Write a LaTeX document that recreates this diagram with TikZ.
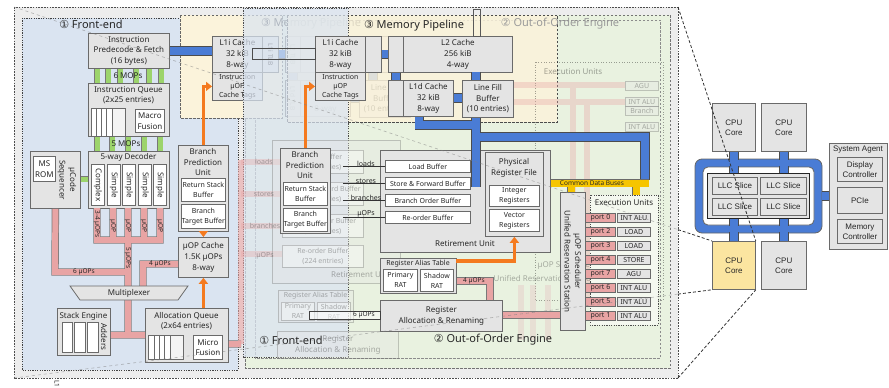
\documentclass[tikz,border=0pt]{standalone}
\usepackage{fontspec}
\setmainfont{Noto Sans}
\newfontfamily\dv{DejaVu Sans}
\newfontfamily\lib{Liberation Sans}
\usetikzlibrary{arrows.meta,calc}
\definecolor{bxf}{HTML}{E4E4E4}
\definecolor{bxd}{HTML}{6A6A6A}
\definecolor{grn}{HTML}{9CD46C}
\definecolor{pnk}{HTML}{E8A4A4}
\definecolor{org}{HTML}{F47A1F}
\definecolor{blu}{HTML}{4A7CD5}
\definecolor{ylw}{HTML}{F6C500}
\definecolor{febg}{HTML}{DAE4F1}
\definecolor{ooobg}{HTML}{E9F2E0}
\definecolor{membg}{HTML}{FBF3DB}
\definecolor{frmbg}{HTML}{EDEDED}
\definecolor{corey}{HTML}{FBE5A0}
\definecolor{ghost}{HTML}{9A9A9A}
\newcommand\fa{\fontsize{8}{10.6}\selectfont}
\newcommand\fb{\fontsize{7}{10}\selectfont}
\newcommand\fc{\fontsize{6.5}{7.5}\selectfont}
\newcommand\fd{\fontsize{7}{9}\selectfont}
\newcommand\fL{\fontsize{11}{13}\selectfont}
\newcommand\fcpu{\lib\fontsize{8}{10}\selectfont}
\newcommand\cn[1]{{\dv #1}}
\newcommand\B[7]{\node[#1,anchor=north west,minimum width={(#5-#3)*1pt},minimum height={(#6-#4)*1pt}] (#2) at (#3,#4) {#7};}
\newcommand\Bar[2]{\draw[#1b] #2; \draw[#1f] #2;}
\begin{document}
\begin{tikzpicture}[x=1pt,y=-1pt,line join=miter,
 box/.style={draw=bxd,fill=bxf,line width=.8pt,inner sep=0pt,align=center,font=\fa,text=black!85},
 wbox/.style={box,fill=white},
 lab/.style={inner sep=.5pt,align=center,font=\fb,text=black!85},
 pkb/.style={draw=bxd!90,line width=7.4pt}, pkf/.style={draw=pnk,line width=6pt},
 gpk/.style={draw=pnk,line width=6pt},
 gnb/.style={draw=bxd!90,line width=6.4pt}, gnf/.style={draw=grn,line width=5pt},
 blb/.style={draw=black!70,line width=9.6pt}, blf/.style={draw=blu,line width=8pt},
 ylb/.style={draw=bxd,line width=8.4pt}, ylf/.style={draw=ylw,line width=7pt},
 oarr/.style={draw=org,line width=3.2pt,-{Triangle[width=9pt,length=6pt]}},
 dsh/.style={dash pattern=on 2.5pt off 1.5pt,line width=.5pt},
 dts/.style={dash pattern=on 1.2pt off 1.2pt,line width=.6pt}]
\useasboundingbox (0,0) rectangle (889,388);
% ---------------- regions
\draw[fill=frmbg,draw=black!70,dash pattern=on 1.6pt off 1.2pt,line width=.6pt] (14,7) rectangle (678,378);
\draw[fill=ooobg,draw=black!55,dsh] (245,15) rectangle (670,368);
\draw[draw=black!45,dsh] (255,20) rectangle (660,358);
\draw[fill=febg,draw=black!75,dts] (22,18) rectangle (238,370);
\draw[fill=membg,draw=black!60,dsh] (180,15) rectangle (282,118);
% ---------------- left copy of the memory pipeline
\B{box}{gL1i}{212}{36}{262}{72}{L1i Cache\\32 kiB\\8-way}
\B{box,font=\fd}{gTag}{212}{72}{262}{100}{Instruction\\µOP\\Cache Tags}
\B{box}{gT1}{262}{36}{278}{72}{}
\node[lab,rotate=-90,font=\fc] (gT1t) at (gT1) {L1i TLB};
\B{box}{gT2}{285}{36}{300}{72}{}
\node[lab,rotate=-90,font=\fc] (gT2t) at (gT2) {L2 TLB};
\B{box}{gL2}{300}{36}{409}{72}{L2 Cache\\256 kiB\\4-way}
\B{box}{gT3}{285}{80}{300}{116}{}
\node[lab,rotate=-90,font=\fc] (gT3t) at (gT3) {L1d TLB};
\B{box}{gL1d}{300}{80}{350}{116}{L1d Cache\\32 kiB\\8-way}
\B{box}{gLFB}{359}{80}{410}{117}{Line Fill\\Buffer\\(10 entries)}
\Bar{bl}{(gT1.east) -- (gT2.west)}
\Bar{bl}{(gT2.south) -- (gT3.north)}
\Bar{bl}{($(gLFB.north west)+(14,0)$) -- ++(0,-8)}
\Bar{bl}{(gL1d.east |- 0,98) -- (gLFB.west |- 0,98)}
\node[lab,font=\fL,text=black!75] (gMPl) at (311,24) {\cn{③} Memory Pipeline};
% ---------------- overlays
\draw[fill=membg,fill opacity=.84,draw=black!70,dsh] (287,15) rectangle (557,122);
\draw[fill=febg,fill opacity=.72,draw=black!70,dts] (243,8) rectangle (348,357);
% ---------------- ghost out-of-order elements
\node[lab,font=\fL,text=ghost] (gOOl) at (560,24) {\cn{②} Out-of-Order Engine};
\begin{scope}[opacity=.35]
\draw[black,dotted,line width=.6pt] (535,62) rectangle (663,300);
\draw[gpk] (490,85) -- (625,85) (573,85) -- (573,300) (490,102) -- (625,102) (587,102) -- (587,300);
\B{box,font=\fb}{gAGU}{625}{81}{658}{90}{AGU}
\B{box,font=\fb}{gALU1}{625}{97}{658}{106}{INT ALU}
\B{box,font=\fb}{gBr}{625}{106}{658}{115}{Branch}
\B{box,font=\fb}{gALU2}{625}{122}{658}{131}{INT ALU}
\node[lab,font=\fa,text=black] (gEUl) at (573,72) {Execution Units};
\draw[gpk] (241,162) -- (282,162) (241,194) -- (282,194) (241,226) -- (282,226) (241,254) -- (282,254);
\B{box}{gRU}{272}{140}{400}{283}{}
\node[lab,font=\fa] (gRUt) at (361,275) {Retirement Unit};
\B{wbox,font=\fb}{gLB}{282}{150}{363}{173}{Load Buffer\\(72 entries)}
\B{wbox,font=\fb}{gSB}{282}{182}{363}{205}{Store \& Forward Buffer\\(56 entries)}
\B{wbox,font=\fb}{gBOB}{282}{214}{363}{237}{Branch Order Buffer\\(48 entries)}
\B{wbox,font=\fb}{gROB}{282}{245}{363}{267}{Re-order Buffer\\(224 entries)}
\node[lab] (gld) at (264,162) {loads};
\node[lab] (gst) at (264,194) {stores};
\node[lab] (gbr) at (265,226) {branches};
\node[lab] (gup) at (265,256) {µOPs};
\B{box}{gRAT}{278}{290}{353}{322}{}
\node[lab] (gRATt) at (315.5,296) {Register Alias Table};
\B{wbox,font=\fb}{gPR}{281}{302}{314}{320}{Primary\\RAT}
\B{wbox,font=\fb}{gSR}{317}{302}{350}{320}{Shadow\\RAT}
\B{box}{gRA}{277}{331}{398}{358}{Register\\Allocation \& Renaming}
\draw[gpk,draw=pnk!60!bxf] (521,285) -- (521,340) (533,285) -- (533,340) (548,285) -- (548,340);
\node[lab,font=\fa,anchor=west] (gSc1) at (537,265) {µOP Scheduler};
\node[lab,font=\fa,anchor=west] (gSc2) at (493,278) {Unified Reservation Station};
\end{scope}
% ---------------- front-end (crisp)
\B{box}{Fetch}{88}{33}{169}{68}{Instruction\\Predecode \& Fetch\\(16 bytes)}
\B{box}{IQ}{88}{83}{169}{136}{}
\node[lab,font=\fa] (IQt) at (128.5,95) {Instruction Queue\\(2x25 entries)};
\B{wbox}{IQs}{91}{108}{112}{136}{}
\B{box,fill=bxf!40}{IQg}{112}{108}{125}{136}{}
\draw[bxd,line width=.6pt] (96,108) -- (96,136) (101,108) -- (101,136) (106,108) -- (106,136);
\B{wbox}{MF1}{135}{109}{164}{132}{Macro\\Fusion}
\B{box}{Dec}{88}{151}{169}{208}{}
\node[lab,font=\fa] (Dect) at (128.5,157.5) {5-way Decoder};
\B{wbox}{Dc1}{91}{164}{104}{205}{}
\B{wbox}{Dc2}{107}{164}{120}{205}{}
\B{wbox}{Dc3}{122}{164}{135}{205}{}
\B{wbox}{Dc4}{138}{164}{151}{205}{}
\B{wbox}{Dc5}{153}{164}{166}{205}{}
\node[lab,rotate=-90,font=\fa] (Dc1t) at (Dc1) {Complex};
\node[lab,rotate=-90,font=\fa] (Dc2t) at (Dc2) {Simple};
\node[lab,rotate=-90,font=\fa] (Dc3t) at (Dc3) {Simple};
\node[lab,rotate=-90,font=\fa] (Dc4t) at (Dc4) {Simple};
\node[lab,rotate=-90,font=\fa] (Dc5t) at (Dc5) {Simple};
\B{box}{MS}{30}{151}{80}{208}{}
\B{wbox}{MSR}{33}{156}{55}{181}{MS\\ROM}
\node[lab,rotate=-90,font=\fa] (MSt) at (67,180) {µCode\\Sequencer};
\foreach \x in {97,108,120,136,149,161} {\Bar{gn}{(Fetch.south -| \x,0) -- (IQ.north -| \x,0)}}
\foreach \x in {97,112,128,144,160} {\Bar{gn}{(IQ.south -| \x,0) -- (Dec.north -| \x,0)}}
\Bar{gn}{(MS.east |- 0,179) -- (Dec.west |- 0,179)}
\node[lab,font=\fa] (l6m) at (128,76) {6 MOPs};
\node[lab,font=\fa] (l5m) at (126,144) {5 MOPs};
\B{box}{UC}{178}{237}{228}{277}{µOP Cache\\1.5K µOPs\\8-way}
\B{box}{SE}{57}{308}{110}{355}{}
\node[lab,font=\fa] (SEt) at (83.5,316) {Stack Engine};
\B{wbox}{SE1}{62}{322}{72}{352}{}
\B{wbox}{SE2}{74}{322}{85}{352}{}
\B{wbox}{SE3}{87}{322}{98}{352}{}
\node[lab,rotate=-90,font=\fa] (SEa) at (104,337) {Adders};
\B{box}{AQ}{145}{308}{228}{362}{}
\node[lab,font=\fa] (AQt) at (186.5,321) {Allocation Queue\\(2x64 entries)};
\B{wbox}{AQs}{148}{335}{170}{359}{}
\B{box,fill=bxf!40}{AQg}{170}{335}{183}{359}{}
\draw[bxd,line width=.6pt] (154,335) -- (154,359) (159,335) -- (159,359) (164,335) -- (164,359);
\B{wbox}{MF2}{193}{335}{222}{359}{Micro\\Fusion}
\Bar{pk}{(97,208) -- (97,240) -- (160,240) -- (160,208) (113,208) -- (113,240) (128,208) -- (128,286) (144,208) -- (144,240) (MS.south) -- (55,272) -- (128,272) (UC.west |- 0,264) -- (143,264) -- (143,286) (128,300) -- (128,335) (SE.east |- 0,335) -- (AQ.west |- 0,335) (AQ.east |- 0,344) -- (241,344)}
\draw[gpk,opacity=.6] (241,344) -- (241,160);
\draw[fill=bxf,draw=bxd,line width=.8pt] (70,286) -- (188,286) -- (178,300) -- (80,300) -- cycle;
\node[lab,font=\fa] (Mux) at (129,293) {Multiplexer};
\node[lab,rotate=-90,font=\fc] (l34) at (97,224) {3-4 µOPs};
\node[lab,rotate=-90,font=\fc] (lu1) at (113,226) {µOP};
\node[lab,rotate=-90,font=\fc] (lu2) at (128,226) {µOP};
\node[lab,rotate=-90,font=\fc] (lu3) at (144,226) {µOP};
\node[lab,rotate=-90,font=\fc] (lu4) at (160,226) {µOP};
\node[lab,rotate=-90,font=\fc] (l5u) at (128,258) {5 µOPs};
\node[lab,font=\fc] (l6u) at (84,272) {6 µOPs};
\node[lab,font=\fc] (l4u) at (160,264) {4 µOPs};
\B{box}{BPUa}{178}{145}{228}{231}{}
\node[lab,font=\fa] (BPUat) at (203,162) {Branch\\Prediction\\Unit};
\B{wbox,font=\fb}{RSBa}{181}{178}{225}{201}{Return Stack\\Buffer}
\B{wbox,font=\fb}{BTBa}{181}{204}{225}{228}{Branch\\Target Buffer}
\Bar{bl}{(Fetch.east) -- (Fetch.east -| gL1i.west)}
% ---------------- second branch predictor
\B{box}{BPUb}{280}{148}{330}{233}{}
\node[lab,font=\fa] (BPUbt) at (305,165) {Branch\\Prediction\\Unit};
\B{wbox,font=\fb}{RSBb}{283}{182}{327}{205}{Return Stack\\Buffer}
\B{wbox,font=\fb}{BTBb}{283}{208}{327}{231}{Branch\\Target Buffer}
% ---------------- memory pipeline (crisp)
\B{box}{L1i}{315}{36}{365}{72}{L1i Cache\\32 kiB\\8-way}
\B{box,font=\fd}{Tag}{315}{72}{365}{100}{Instruction\\µOP\\Cache Tags}
\B{box}{T1}{365}{36}{381}{72}{}
\B{box}{T2}{388}{36}{403}{72}{}
\B{box}{L2}{403}{36}{512}{72}{L2 Cache\\256 kiB\\4-way}
\B{box}{T3}{388}{80}{403}{116}{}
\B{box}{L1d}{403}{80}{453}{116}{L1d Cache\\32 kiB\\8-way}
\B{box}{LFB}{462}{80}{513}{117}{Line Fill\\Buffer\\(10 entries)}
\Bar{bl}{(T1.east) -- (T2.west)}
\Bar{bl}{(T2.south) -- (T3.north)}
\Bar{bl}{($(LFB.north west)+(14,0)$) -- ++(0,-8)}
\Bar{bl}{(L1d.east |- 0,98) -- (LFB.west |- 0,98)}
\draw[draw=black!65,line width=.6pt] ($(L2.north west)+(70,0)$) rectangle ++(7,-27);
\draw[draw=black!70,line width=.6pt] (252,48) rectangle (L1i.west |- 0,59);
\node[lab,font=\fL] (MPl) at (414,26) {\cn{③} Memory Pipeline};
% ---------------- out-of-order engine (crisp)
\B{box}{RU}{380}{150}{550}{252}{}
\node[lab,font=\fa] (RUt) at (465,244) {Retirement Unit};
\B{wbox,font=\fb}{LB}{385}{160}{470}{172}{Load Buffer}
\B{wbox,font=\fb}{SB}{385}{177}{470}{189}{Store \& Forward Buffer}
\B{wbox,font=\fb}{BOB}{385}{194}{470}{206}{Branch Order Buffer}
\B{wbox,font=\fb}{ROB}{385}{211}{470}{223}{Re-order Buffer}
\B{box}{PRF}{485}{152}{543}{236}{}
\node[lab,font=\fa] (PRFt) at (514,168) {Physical\\Register File};
\B{wbox,font=\fb}{IR}{489}{185}{539}{206}{Integer\\Registers}
\B{wbox,font=\fb}{VR}{489}{209}{539}{231}{Vector\\Registers}
\coordinate (lx) at (343,0);
\draw[black!80,line width=.6pt] (LB.west -| lx) -- (LB.west) (SB.west -| lx) -- (SB.west) (BOB.west -| lx) -- (BOB.west) (ROB.west -| lx) -- (ROB.west);
\node[lab,anchor=south] (lld) at (366,167) {loads};
\node[lab,anchor=south] (lst) at (366,184) {stores};
\node[lab,anchor=south] (lbr) at (366,201) {branches};
\node[lab,anchor=south] (lup) at (366,218) {µOPs};
\Bar{bl}{($(LFB.south west)+(14,0)$) -- ++(0,69) ($(L1d.south)+(-9,0)$) -- ++(0,8) -- ++(57,0) (476,137) -- (645,137) -- (645,180)}
\B{box}{RAT}{380}{258}{456}{293}{}
\node[lab] (RATt) at (418,263.5) {Register Alias Table};
\B{wbox,font=\fb}{PR}{383}{269}{417}{291}{Primary\\RAT}
\B{wbox,font=\fb}{SR}{420}{269}{453}{291}{Shadow\\RAT}
\B{box}{RA}{380}{300}{502}{331}{Register\\Allocation \& Renaming}
\B{box}{SCH}{560}{192}{585}{330}{}
\node[lab,rotate=-90,font=\fa] (SCHt) at (SCH) {µOP Scheduler\\Unified Reservation Station};
\draw[fill=ooobg!50!white,draw=black!70,dts] (590,195) rectangle (658,325);
\node[lab,font=\fa] (EUt) at (624,203) {Execution Units};
\foreach \p/\f [count=\i from 0] in {0/INT ALU,2/LOAD,3/LOAD,4/STORE,7/AGU,6/INT ALU,5/INT ALU,1/INT ALU} {
  \pgfmathsetmacro\yy{213+14*\i}
  \B{box,fill=pnk,font=\fb}{P\i}{585}{\yy}{615}{\yy+9}{port \p}
  \B{box,font=\fb}{F\i}{617}{\yy}{650}{\yy+9}{\f}
}
\Bar{yl}{(RU.east |- 0,183) -- (649,183) (636,183) -- (636,195) (571,183) -- (SCH.north -| 571,0)}
\node[lab,font=\fc] (CDB) at (592,183) {Common Data Buses};
\Bar{pk}{(RAT.east |- 0,281) -- (490,281) -- (RA.north -| 490,0) (RA.east |- 0,315) -- (SCH.west |- 0,315)}
\node[lab,font=\fc] (l4b) at (474,281) {4 µOPs};
\draw[draw=black!75,line width=.6pt,fill=white,fill opacity=.5] (309,311) rectangle (RA.west |- 0,319);
\node[lab,font=\fc] (l6b) at (364,315) {6 µOPs};
\coordinate (r1) at (456,261);
\draw[oarr] (r1) -| (PRF.south);
\draw[oarr] (BPUa.north) |- (gTag.west);
\draw[oarr] (BPUa.south) -- (UC.north);
\draw[oarr] (AQ.north -| UC.south) -- (UC.south);
\draw[oarr] (BPUb.north) |- (Tag.west);
% ---------------- region labels
\node[lab,font=\fL] (FEl) at (91,24) {\cn{①} Front-end};
\node[lab,font=\fL] (FEl2) at (291,340) {\cn{①} Front-end};
\node[lab,font=\fL] (OOl) at (493,340) {\cn{②} Out-of-Order Engine};
\node[lab,rotate=-90,font=\fc] (L1x) at (57,384) {L1};
% ---------------- CPU overview
\B{box,font=\fcpu}{C1}{712}{103}{755}{151}{CPU\\Core}
\B{box,font=\fcpu}{C2}{761}{103}{806}{151}{CPU\\Core}
\B{box,font=\fcpu,fill=corey}{C3}{712}{241}{755}{289}{CPU\\Core}
\B{box,font=\fcpu}{C4}{761}{241}{806}{289}{CPU\\Core}
\draw[fill=blu,draw=black!60,line width=.8pt,rounded corners=7pt] (695,159) rectangle (822,233);
\draw[fill=white,draw=black!60,line width=.8pt,rounded corners=5pt] (703,167) rectangle (814,225);
\B{box,draw=black!85,line width=1pt}{LLC}{707}{173}{809}{218}{}
\B{box,font=\fcpu}{S1}{712}{177}{757}{194}{LLC Slice}
\B{box,font=\fcpu}{S2}{760}{177}{806}{194}{LLC Slice}
\B{box,font=\fcpu}{S3}{712}{198}{757}{215}{LLC Slice}
\B{box,font=\fcpu}{S4}{760}{198}{806}{215}{LLC Slice}
\Bar{bl}{(C1.south) -- (C1.south |- 0,160) (C1.south |- 0,166) -- (C1.south |- LLC.north)}
\Bar{bl}{(C2.south) -- (C2.south |- 0,160) (C2.south |- 0,166) -- (C2.south |- LLC.north)}
\Bar{bl}{(C3.north) -- (C3.north |- 0,232) (C3.north |- 0,226) -- (C3.north |- LLC.south)}
\Bar{bl}{(C4.north) -- (C4.north |- 0,232) (C4.north |- 0,226) -- (C4.north |- LLC.south)}
\B{box}{SA}{829}{143}{887}{249}{}
\node[lab,font=\fcpu] (SAt) at (858,150) {System Agent};
\B{box,font=\fcpu}{DC}{837}{157}{882}{181}{Display\\Controller}
\B{box,font=\fcpu}{PCI}{837}{187}{882}{213}{PCIe}
\B{box,font=\fcpu}{MC}{837}{219}{882}{243}{Memory\\Controller}
\Bar{bl}{(821.5,196) -- (SA.west |- 0,196)}
% ---------------- projection lines
\coordinate (F1) at (14,7);
\coordinate (F2) at (678,7);
\coordinate (F3) at (14,378);
\coordinate (F4) at (678,378);
\draw[gray,dashed,opacity=.55,line width=.6pt] (F1) -- ($(F1)!0.9513!(C3.north west)$) (F3) -- ($(F3)!0.9513!(C3.south west)$);
\draw[black!80,dash pattern=on 3pt off 2pt,line width=.8pt] ($(F1)!0.9513!(C3.north west)$) -- (C3.north west) (F2) -- (C3.north east) ($(F3)!0.9513!(C3.south west)$) -- (C3.south west) (F4) -- (C3.south east);
\end{tikzpicture}
\end{document}
